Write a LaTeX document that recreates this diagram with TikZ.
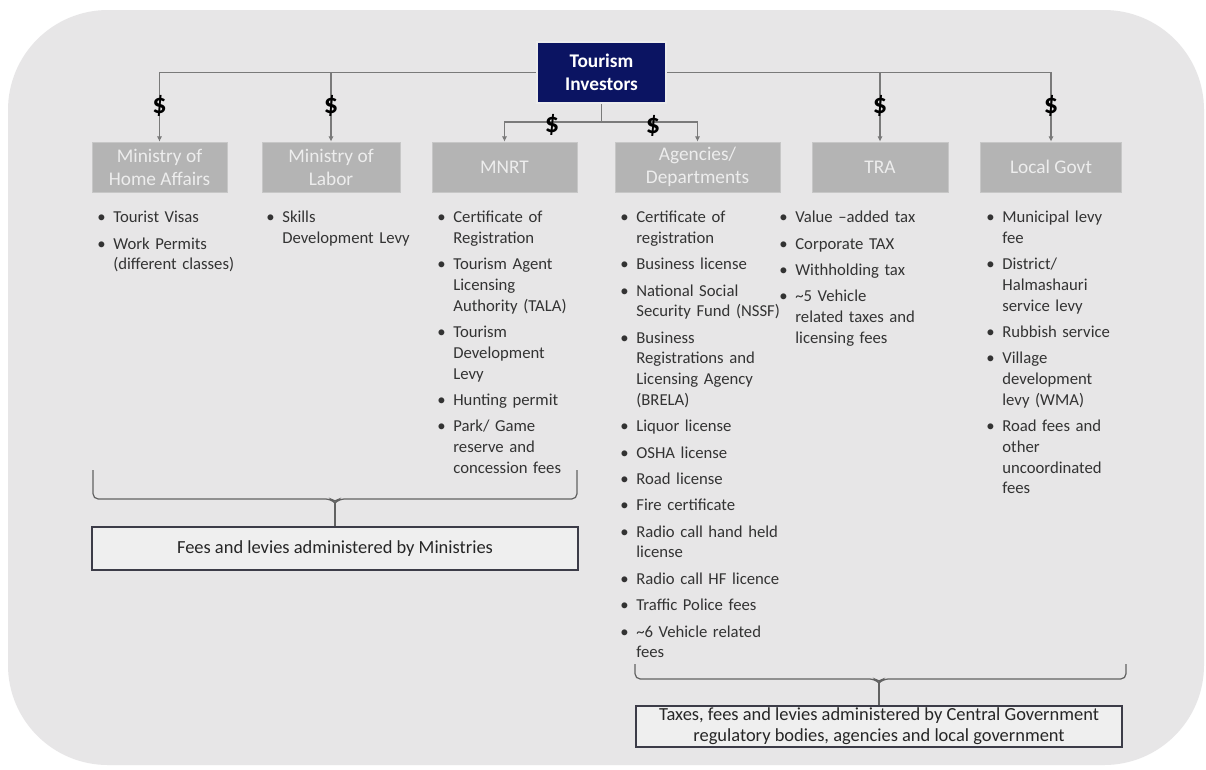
\documentclass[tikz,border=0pt]{standalone}
\usepackage{fontspec}
\setmainfont{Carlito}
\usetikzlibrary{arrows.meta}
\definecolor{navy}{HTML}{0B1462}
\definecolor{panelgray}{HTML}{E7E6E7}
\definecolor{boxgray}{HTML}{B4B4B4}
\definecolor{boxtext}{HTML}{EDEDED}
\definecolor{linkgray}{HTML}{7A7A7A}
\definecolor{listtext}{HTML}{333333}
\definecolor{sumline}{HTML}{3C3C48}
\definecolor{sumfill}{HTML}{EFEFEF}
\newcommand{\fee}[1]{\par\noindent\strut\llap{\textbullet\hspace{4.3pt}}#1}

\begin{document}
\begin{tikzpicture}[x=0.02cm, y=-0.02cm,
    investor/.style={draw=white!85!gray, line width=1.2pt, fill=navy, text=white, align=center,
        font=\bfseries\fontsize{11}{13}\selectfont, minimum width=2.58cm, minimum height=1.22cm},
    body/.style={fill=boxgray, draw=boxgray!75!white, text=boxtext, align=center,
        font=\fontsize{11}{13}\selectfont, minimum height=1cm, inner sep=1pt},
    feelist/.style={anchor=north west, text width=3.4cm, align=left, inner sep=0pt, text=listtext,
        font=\fontsize{9.5}{11.8}\selectfont\setlength{\parskip}{3.2pt}},
    summary/.style={draw=sumline, line width=1pt, fill=sumfill, text=black!85, align=center,
        font=\fontsize{10.5}{12}\selectfont, minimum width=9.72cm, inner sep=1pt},
    link/.style={draw=linkgray, line width=0.8pt, -{Latex[length=3pt,width=3pt]}},
    dollar/.style={font=\bfseries\fontsize{16}{18}\selectfont, inner sep=0pt},
    brace/.style={draw=linkgray!80!black, line width=0.7pt, rounded corners=3pt}]
    % Draw background panel
    \useasboundingbox (0,0) rectangle (1206,769);
    \fill[white] (0,0) rectangle (1206,769);
    \fill[panelgray, rounded corners=2cm] (8,10) rectangle (1204,765);
    % Draw investors and paying bodies
    \node[investor] (inv) at (601.5,72.5) {Tourism\\Investors};
    \node[body, minimum width=2.7cm] (home) at (159.5,167) {Ministry of\\Home Affairs};
    \node[body, minimum width=2.76cm] (labor) at (331,167) {Ministry of\\Labor};
    \node[body, minimum width=2.9cm] (mnrt) at (504.5,167) {MNRT};
    \node[body, minimum width=3.3cm] (agen) at (697.5,167) {Agencies/\\Departments};
    \node[body, minimum width=2.72cm] (tra) at (880,167) {TRA};
    \node[body, minimum width=2.82cm] (local) at (1051,167) {Local Govt};
    % Draw payment lines
    \draw[link] (inv.west) -| (home.north);
    \draw[link] (inv.west) -| (labor.north);
    \draw[link] (inv.east) -| (tra.north);
    \draw[link] (inv.east) -| (local.north);
    \draw[link] (inv.south) -- ++(0,18) -| (mnrt.north);
    \draw[link] (inv.south) -- ++(0,18) -| (agen.north);
    % Draw dollar signs
    \node[dollar] (dhome) at (159.5,106) {\$};
    \node[dollar] (dlabor) at (331,106) {\$};
    \node[dollar] (dmnrt) at (552,125) {\$};
    \node[dollar] (dagen) at (653,126) {\$};
    \node[dollar] (dtra) at (880,106) {\$};
    \node[dollar] (dlocal) at (1051,106) {\$};
    % Draw fee lists
    \node[feelist] (homelist) at (113,196) {\fee{Tourist Visas}\fee{Work Permits\\(different classes)}};
    \node[feelist] (laborlist) at (282,196) {\fee{Skills\\Development Levy}};
    \node[feelist] (mnrtlist) at (453,196) {\fee{Certificate of\\Registration}
        \fee{Tourism Agent\\Licensing\\Authority (TALA)}\fee{Tourism\\Development\\Levy}
        \fee{Hunting permit}\fee{Park/ Game\\reserve and\\concession fees}};
    \node[feelist] (agenlist) at (636,196) {\fee{Certificate of\\registration}\fee{Business license}
        \fee{National Social\\Security Fund (NSSF)}
        \fee{Business\\Registrations and\\Licensing Agency\\(BRELA)}
        \fee{Liquor license}\fee{OSHA license}\fee{Road license}\fee{Fire certificate}
        \fee{Radio call hand held\\license}\fee{Radio call HF licence}\fee{Traffic Police fees}
        \fee{\textasciitilde6 Vehicle related\\fees}};
    \node[feelist] (tralist) at (795,196) {\fee{Value --added tax}\fee{Corporate TAX}
        \fee{Withholding tax}\fee{\textasciitilde5 Vehicle\\related taxes and\\licensing fees}};
    \node[feelist] (locallist) at (1002,196) {\fee{Municipal levy\\fee}
        \fee{District/\\Halmashauri\\service levy}\fee{Rubbish service}
        \fee{Village\\development\\levy (WMA)}\fee{Road fees and\\other\\uncoordinated\\fees}};
    % Draw brackets and summaries
    \node[summary, minimum height=0.86cm] (fees) at (335,548.5) {Fees and levies administered by Ministries};
    \node[summary, minimum height=0.82cm] (taxes) at (879,726.5)
        {Taxes, fees and levies administered by Central Government\\regulatory bodies, agencies and local government};
    \coordinate (mintip) at (335,503);
    \coordinate (govtip) at (879,683);
    \draw[brace] (93,470) |- (331,499) -- (mintip) -- (339,499) -| (577,470);
    \draw[brace] (635,664) |- (875,679) -- (govtip) -- (883,679) -| (1126,664);
    \draw[brace] (mintip) -- (fees.north);
    \draw[brace] (govtip) -- (taxes.north);
\end{tikzpicture}
\end{document}
